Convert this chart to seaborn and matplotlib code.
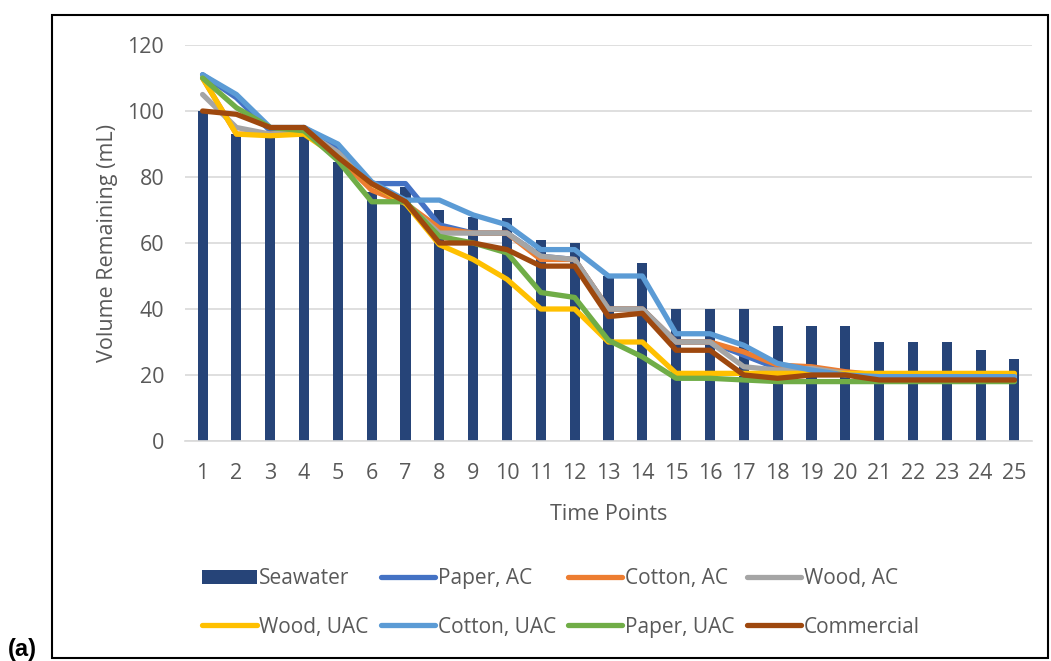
import matplotlib
matplotlib.use("Agg")
import matplotlib.pyplot as plt
import seaborn as sns
import pandas as pd
from matplotlib.patches import Rectangle, Patch
from matplotlib.lines import Line2D

time_points = list(range(1, 26))
seawater = [100, 93, 93, 93, 84.5, 75.5, 77, 70, 68, 67.5, 61, 60, 50, 54, 40, 40, 40, 35, 35, 35, 30, 30, 30, 27.5, 25]
paper_ac = [111, 104, 94, 95, 89, 78, 78, 65.5, 63, 63, 56, 55, 40, 40, 30, 30, 26, 22, 21.5, 20.5, 19.5, 19.5, 19.5, 19.5, 19.5]
cotton_ac = [110, 93, 93, 94, 86, 76, 72, 64.5, 63, 63, 55, 55, 40, 40, 30, 30, 27, 23, 22.5, 21, 20, 20, 20, 20, 20]
wood_ac = [105, 95, 93, 94, 87.5, 78, 72, 63, 63, 63, 56, 55, 40, 40, 30, 30, 22.5, 21.5, 22, 20.5, 19.5, 19.5, 19.5, 19.5, 19.5]
wood_uac = [110, 93, 92.5, 93, 86, 78, 72, 59.5, 55, 49, 40, 40, 30, 30, 20.5, 20.5, 20.5, 20.5, 20.5, 20.5, 20.5, 20.5, 20.5, 20.5, 20.5]
cotton_uac = [111, 105, 95, 95, 90, 78.5, 73, 73, 68.5, 65.5, 58, 58, 50, 50, 32.5, 32.5, 29, 23.5, 21.5, 20, 19.5, 19.5, 19.5, 19.5, 19.5]
paper_uac = [110, 101, 95, 94, 85, 72.5, 72.5, 62, 60, 57, 45, 43.5, 30.5, 25.5, 19, 19, 18.5, 18, 18, 18, 18, 18, 18, 18, 18]
commercial = [100, 99, 95, 95, 86, 78, 72.5, 60, 60, 58, 53, 53, 37.7, 38.7, 27.5, 27.5, 20, 19, 20, 20, 18.5, 18.5, 18.5, 18.5, 18.5]

series_names = ["Paper, AC", "Cotton, AC", "Wood, AC", "Wood, UAC", "Cotton, UAC", "Paper, UAC", "Commercial"]
series_values = [paper_ac, cotton_ac, wood_ac, wood_uac, cotton_uac, paper_uac, commercial]
series_colors = ["#4472C4", "#ED7D31", "#A5A5A5", "#FFC000", "#5B9BD5", "#70AD47", "#9E480E"]
bar_color = "#264478"

sns.set_theme(style="white")
plt.rcParams["font.family"] = ["Open Sans", "DejaVu Sans"]
text_color = "#595959"
lw = 3.8

fig = plt.figure(figsize=(10.51, 6.61), dpi=100)
ax = fig.add_axes([185/1051, 1 - 441/661, (1032-185)/1051, (441-45)/661])

bar_df = pd.DataFrame({"t": time_points, "v": seawater})
sns.barplot(data=bar_df, x="t", y="v", native_scale=True, width=0.3,
            color=bar_color, saturation=1, ax=ax, zorder=2, edgecolor="none")

for name, vals, col in zip(series_names, series_values, series_colors):
    df = pd.DataFrame({"t": time_points, "v": vals})
    sns.lineplot(data=df, x="t", y="v", color=col, linewidth=lw, ax=ax,
                 zorder=3, solid_joinstyle="round", solid_capstyle="round")

ax.set_xlim(0.48, 25.52)
ax.set_ylim(0, 120)
ax.set_yticks(range(0, 121, 20))
ax.set_xticks(time_points)
ax.set_xticklabels([str(t) for t in time_points])
ax.grid(axis="y", color="#D9D9D9", linewidth=1.2, zorder=0)
ax.set_axisbelow(True)
for s in ["top", "right", "left"]:
    ax.spines[s].set_visible(False)
ax.spines["bottom"].set_color("#D9D9D9")
ax.spines["bottom"].set_linewidth(1.2)
ax.tick_params(axis="y", length=0, labelsize=15.5, colors=text_color, pad=15)
ax.tick_params(axis="x", length=0, labelsize=15.5, colors=text_color, pad=16)
ax.set_xlabel("Time Points", fontsize=15.5, color=text_color, labelpad=14)
ax.set_ylabel("Volume Remaining (mL)", fontsize=15.5, color=text_color, labelpad=6.5)

# legend
handles = [Patch(facecolor=bar_color, edgecolor="none")]
labels = ["Seawater"]
for name, col in zip(series_names, series_colors):
    handles.append(Line2D([0], [0], color=col, linewidth=lw, solid_capstyle="round"))
    labels.append(name)
order = [0, 4, 1, 5, 2, 6, 3, 7]
leg = fig.legend([handles[i] for i in order], [labels[i] for i in order],
                 loc="center", bbox_to_anchor=(561/1051, 1 - 603/661), ncol=4,
                 frameon=False, fontsize=15, handlelength=2.6, handletextpad=0.12,
                 columnspacing=0.6, labelspacing=1.3)
for t in leg.get_texts():
    t.set_color(text_color)

fig.patches.append(Rectangle((52/1051, 1 - 658/661), (1048-52)/1051, (658-15)/661,
                             transform=fig.transFigure, fill=False,
                             edgecolor="black", linewidth=1.5))
fig.text(8/1051, 1 - 656/661, "(a)", fontsize=17, fontweight="bold",
         family=["Liberation Sans", "DejaVu Sans"], color="black", va="baseline")

fig.savefig("out.png", dpi=100)
